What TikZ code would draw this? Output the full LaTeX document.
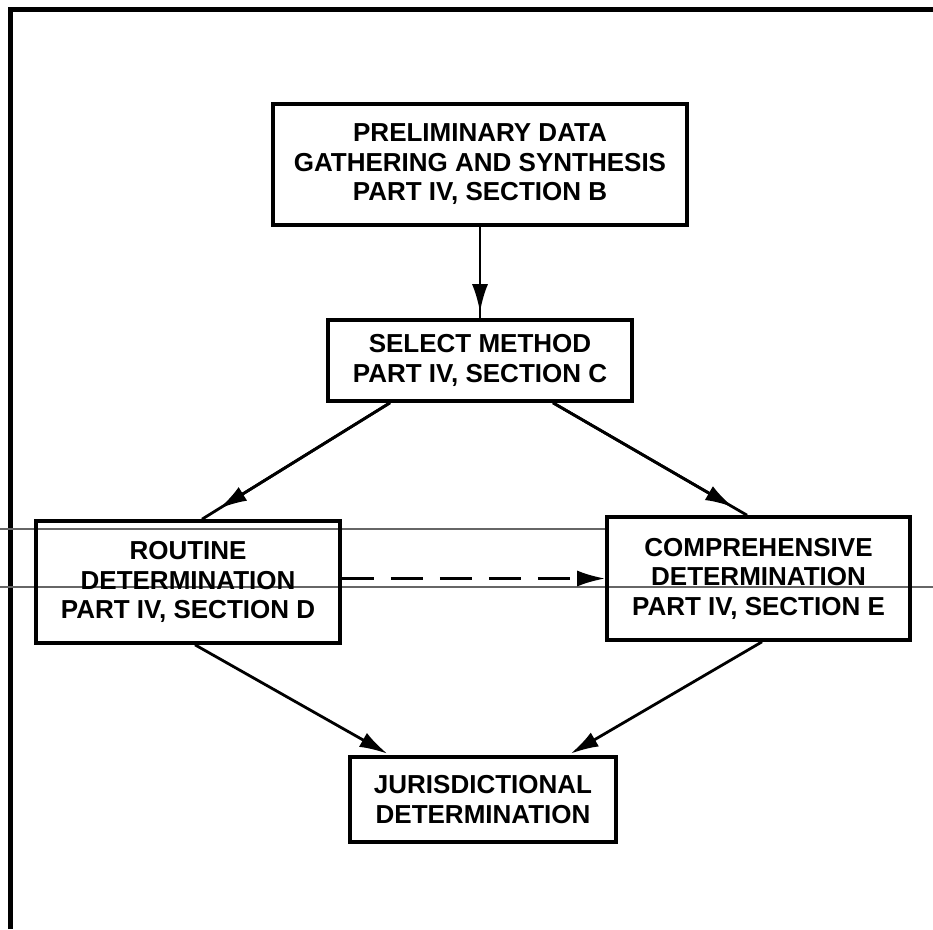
\documentclass[tikz,border=0pt]{standalone}
\usepackage{fontspec}
\setmainfont{Liberation Sans}
\usetikzlibrary{arrows.meta}
\begin{document}
\begin{tikzpicture}[x=1pt,y=-1pt,
  box/.style={draw, line width=3.6pt, align=center, inner sep=0pt,
    font=\bfseries\fontsize{26}{29.5}\selectfont},
  conn/.style={line width=2.8pt},
  tipped/.style={conn, -{Latex[length=28pt,width=16pt]}},
  scanline/.style={draw=black!60, line width=1.3pt},
  frameline/.style={line width=5pt, line join=miter},
]
\useasboundingbox (0,0) rectangle (933,929);
% frame
\draw[frameline] (10,929) -- (10,9) -- (933,9);
% faint scan lines
\draw[scanline] (0,529) -- (607,529);
\draw[scanline] (0,587) -- (933,587);
% boxes
\node[box, minimum width=414pt, minimum height=121pt] (B) at (480,164.5)
  {PRELIMINARY DATA\\GATHERING AND SYNTHESIS\\PART IV, SECTION B};
\node[box, minimum width=304pt, minimum height=81pt] (C) at (480,360.5)
  {SELECT METHOD\\PART IV, SECTION C};
\node[box, minimum width=304pt, minimum height=122pt] (D) at (188,582)
  {ROUTINE\\DETERMINATION\\PART IV, SECTION D};
\node[box, minimum width=303pt, minimum height=123pt] (E) at (758.5,578.5)
  {COMPREHENSIVE\\DETERMINATION\\PART IV, SECTION E};
\node[box, minimum width=266pt, minimum height=85pt] (J) at (483,799.5)
  {JURISDICTIONAL\\DETERMINATION};
% connectors
\draw[conn] (B.south) -- (C.north);
\draw[tipped, shorten >=6pt] (B.south) -- (C.north);
\draw[conn] ([xshift=-90pt]C.south) -- ([xshift=14pt]D.north);
\draw[tipped, shorten >=20pt] ([xshift=-90pt]C.south) -- ([xshift=14pt]D.north);
\draw[conn] ([xshift=73pt]C.south) -- ([xshift=-11.5pt]E.north);
\draw[tipped, shorten >=16pt] ([xshift=73pt]C.south) -- ([xshift=-11.5pt]E.north);
\draw[tipped, shorten >=3pt] ([xshift=7pt]D.south) -- ([xshift=-93pt]J.north);
\draw[tipped, shorten >=3pt] ([xshift=3.5pt]E.south) -- ([xshift=85pt]J.north);
\draw[tipped, dash pattern=on 32pt off 17pt] (D.east |- E.west) -- (E.west);
\end{tikzpicture}
\end{document}
